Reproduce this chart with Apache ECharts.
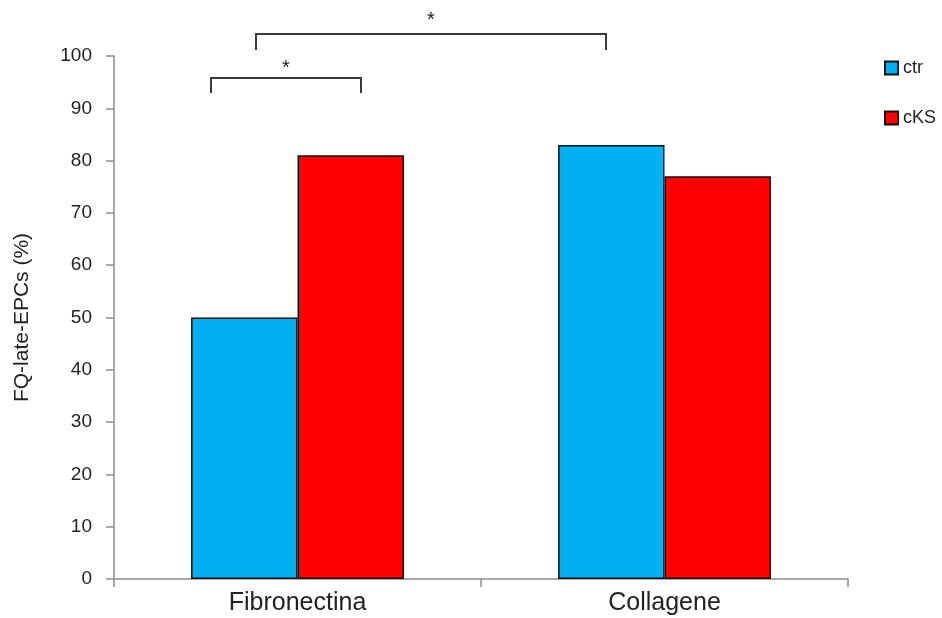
<!DOCTYPE html>
<html>
<head>
<meta charset="utf-8">
<script src="https://cdn.jsdelivr.net/npm/echarts@6/dist/echarts.min.js"></script>
<style>
  html, body { margin: 0; padding: 0; background: #fff; }
  #chart { width: 942px; height: 618px; }
</style>
</head>
<body>
<div id="chart"></div>
<script>
const categories = ['Fibronectina', 'Collagene'];
const ctrValues = [50, 83];
const cksValues = [81, 77];
const yTicks = [0, 10, 20, 30, 40, 50, 60, 70, 80, 90, 100];

const FONT = '"Liberation Sans", Arial, sans-serif';
const chart = echarts.init(document.getElementById('chart'));

// Significance brackets: [x0, x1, yTop, yBottom, starY]
const brackets = [
  { x0: 211, x1: 361, top: 78, bottom: 93, star: 68 },
  { x0: 256, x1: 606, top: 34, bottom: 50, star: 20 }
];

const graphic = [];
brackets.forEach(b => {
  graphic.push({
    type: 'polyline',
    shape: { points: [[b.x0, b.bottom], [b.x0, b.top], [b.x1, b.top], [b.x1, b.bottom]] },
    style: { stroke: '#3a3a3a', lineWidth: 2, fill: null }
  });
  graphic.push({
    type: 'text',
    x: (b.x0 + b.x1) / 2, y: b.star,
    style: { text: '*', font: '20px ' + FONT, fill: '#222', align: 'center', verticalAlign: 'middle' }
  });
});

chart.setOption({
  animation: false,
  backgroundColor: '#fff',
  grid: { left: 114, right: 94, top: 56, bottom: 39 },
  legend: {
    orient: 'vertical',
    left: 879, top: 54,
    itemWidth: 13, itemHeight: 13, itemGap: 32,
    icon: 'rect',
    itemStyle: { borderColor: '#111', borderWidth: 2 },
    textStyle: { fontFamily: FONT, fontSize: 18, color: '#222' },
    data: ['ctr', 'cKS']
  },
  xAxis: {
    type: 'category',
    data: categories,
    axisLine: { lineStyle: { color: '#8c8c8c', width: 1.5 } },
    axisTick: { show: true, length: 8, lineStyle: { color: '#8c8c8c', width: 1.5 } },
    axisLabel: { fontFamily: FONT, fontSize: 25, color: '#222', margin: 12 }
  },
  yAxis: {
    type: 'value',
    min: 0, max: 100, interval: 10,
    name: 'FQ-late-EPCs (%)',
    nameLocation: 'middle',
    nameGap: 81,
    nameRotate: 90,
    nameTextStyle: { fontFamily: FONT, fontSize: 21, color: '#222' },
    axisLine: { show: true, lineStyle: { color: '#8c8c8c', width: 1.5 } },
    axisTick: { show: true, length: 8, lineStyle: { color: '#8c8c8c', width: 1.5 } },
    splitLine: { show: false },
    axisLabel: {
      fontFamily: FONT, fontSize: 19, color: '#222', margin: 22,
      formatter: v => yTicks.includes(v) ? String(v) : ''
    }
  },
  series: [
    {
      name: 'ctr', type: 'bar', data: ctrValues,
      barGap: '0%', barCategoryGap: '42%',
      itemStyle: { color: '#00B0F0', borderColor: '#111', borderWidth: 1.5 }
    },
    {
      name: 'cKS', type: 'bar', data: cksValues,
      barGap: '0%', barCategoryGap: '42%',
      itemStyle: { color: '#FF0000', borderColor: '#111', borderWidth: 1.5 }
    }
  ],
  graphic: graphic
});
</script>
</body>
</html>
